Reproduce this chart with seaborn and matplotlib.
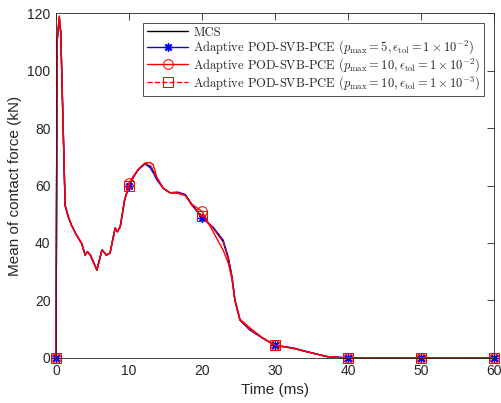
import numpy as np
import pandas as pd
import matplotlib
matplotlib.use("Agg")
import matplotlib.pyplot as plt
import seaborn as sns

# time grid (ms), shared by all series
time_ms = [0, 0.15, 0.45, 0.65, 1.25, 1.7, 2.1, 2.8, 3.5, 4.0, 4.3, 4.7, 5.6, 6.3,
           6.9, 7.4, 8.1, 8.4, 8.8, 9.4, 10, 10.6, 11.3, 12.2, 12.9, 13.3, 13.8,
           14.7, 15.6, 16.7, 17.7, 18.6, 20, 21.5, 22.9, 23.6, 24.1, 24.5, 25.2,
           26.6, 28.4, 30, 32.5, 34.3, 37.1, 40, 50, 60]

mcs = [0, 110, 118.3, 113, 53, 49, 46.3, 42.8, 39.9, 35.8, 37, 35.8, 30.6, 37.6,
       35.8, 36.5, 45.2, 43.9, 45.7, 55, 60, 63, 65.6, 67.7, 66.6, 65, 62.5,
       59, 57.5, 57.5, 56.7, 53.2, 49, 45.3, 40.5, 34.7, 28.3, 20.2, 13.2,
       9.7, 6.8, 4.4, 3.4, 2.2, 0.5, 0, 0, 0]

pce_p5_e2 = [0, 110, 118.3, 113, 53, 49, 46.3, 42.8, 39.9, 35.8, 37, 35.8, 30.6, 37.6,
             35.8, 36.5, 45.2, 43.9, 45.7, 55, 59.8, 63, 65.6, 67.5, 66.2, 64.5, 62,
             59, 57.5, 57.7, 56.9, 53.5, 48.8, 45.6, 41, 34.9, 28.3, 20.2, 13.2,
             9.7, 6.8, 4.4, 3.5, 2.3, 0.5, 0, 0, 0]

pce_p10_e2 = [0, 111, 119, 113.5, 53, 49, 46.3, 42.8, 39.9, 35.8, 37, 35.8, 30.6, 37.6,
              35.8, 36.5, 45.2, 43.9, 45.7, 55, 60.8, 63.2, 65.8, 67.8, 68, 67.3, 63,
              59, 57.5, 57.3, 56.5, 53.5, 51, 44, 37.5, 33, 27.5, 20.2, 13.5,
              10.4, 6.8, 4.4, 3.3, 2.2, 0.5, 0, 0, 0]

pce_p10_e3 = [0, 110.5, 118.6, 113, 53, 49, 46.3, 42.8, 39.9, 35.8, 37, 35.8, 30.6, 37.6,
              35.8, 36.5, 45.2, 43.9, 45.7, 55, 59.8, 63, 65.6, 67.7, 67, 65.4, 62.6,
              59, 57.5, 57.5, 56.7, 53.2, 49.5, 45.3, 40.5, 34.7, 28.3, 20.2, 13.2,
              9.8, 6.8, 4.4, 3.4, 2.2, 0.5, 0, 0, 0]

marker_times = [0, 10, 20, 30, 40, 50, 60]

labels = [
    "MCS",
    r"Adaptive POD-SVB-PCE ($p_{\max}=5, \epsilon_{\mathrm{tol}}=1\times10^{-2}$)",
    r"Adaptive POD-SVB-PCE ($p_{\max}=10, \epsilon_{\mathrm{tol}}=1\times10^{-2}$)",
    r"Adaptive POD-SVB-PCE ($p_{\max}=10, \epsilon_{\mathrm{tol}}=1\times10^{-3}$)",
]

sns.set_style("white")
plt.rcParams["font.family"] = ["Liberation Sans", "DejaVu Sans"]
plt.rcParams["mathtext.fontset"] = "cm"

df = pd.DataFrame({"t": time_ms, "mcs": mcs, "p5e2": pce_p5_e2,
                   "p10e2": pce_p10_e2, "p10e3": pce_p10_e3})
mark_idx = [time_ms.index(m) for m in marker_times]

fig = plt.figure(figsize=(5.01, 4.03), dpi=100)
ax = fig.add_axes([0.1118, 0.1117, 0.8742, 0.856])

sns.lineplot(data=df, x="t", y="mcs", ax=ax, color="black", lw=1.0,
             sort=False, estimator=None, label=labels[0], clip_on=False)
sns.lineplot(data=df, x="t", y="p5e2", ax=ax, color="#0000ff", lw=1.0,
             marker=(8, 2, 0), markersize=6, markevery=mark_idx,
             markeredgecolor="#0000ff", markeredgewidth=1.0,
             sort=False, estimator=None, label=labels[1], clip_on=False)
sns.lineplot(data=df, x="t", y="p10e2", ax=ax, color="#ff0000", lw=1.0,
             marker="o", markersize=7, markerfacecolor="none", markeredgecolor="#ff0000",
             markevery=mark_idx, sort=False, estimator=None, label=labels[2],
             clip_on=False)
sns.lineplot(data=df, x="t", y="p10e3", ax=ax, color="#ff0000", lw=1.0, ls="--",
             marker="s", markersize=6.5, markerfacecolor="none", markeredgecolor="#ff0000",
             markevery=mark_idx, sort=False, estimator=None, label=labels[3],
             clip_on=False)

ax.set_xlim(0, 60)
ax.set_ylim(0, 120)
ax.set_xticks(range(0, 61, 10))
ax.set_yticks(range(0, 121, 20))
ax.set_xlabel("Time (ms)", fontsize=11, color="#262626")
ax.set_ylabel("Mean of contact force (kN)", fontsize=11, color="#262626")
ax.tick_params(direction="in", top=True, right=True, length=5, width=0.6,
               labelsize=10, colors="#262626", pad=4)
for sp in ax.spines.values():
    sp.set_visible(True)
    sp.set_color("#262626")
    sp.set_linewidth(0.6)

leg = ax.legend(loc="upper right", bbox_to_anchor=(0.978, 0.972),
                prop={"family": "cmr10", "size": 9}, frameon=True, fancybox=False,
                edgecolor="black", borderpad=0.3, labelspacing=0.0,
                handlelength=3.3, handletextpad=0.4, borderaxespad=0)
leg.get_frame().set_linewidth(0.6)

fig.savefig("out.png", dpi=100)
